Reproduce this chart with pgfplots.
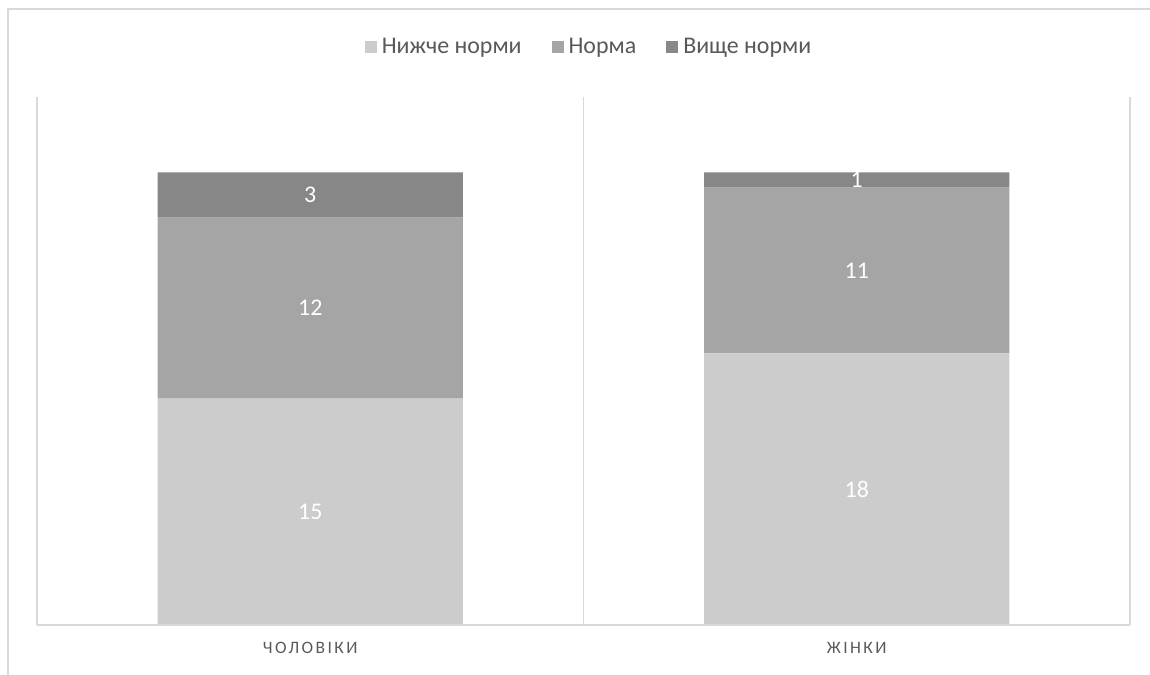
\documentclass[border=0pt]{standalone}
\usepackage{pgfplots}
\pgfplotsset{compat=1.18}
\usepackage{fontspec}
\setmainfont{Carlito}
\newfontfamily\spaced[LetterSpace=14]{Carlito}
\definecolor{cLow}{HTML}{CCCCCC}
\definecolor{cMid}{HTML}{A5A5A5}
\definecolor{cHigh}{HTML}{878787}
\definecolor{cGrid}{HTML}{D9D9D9}
\definecolor{cText}{HTML}{595959}
\pgfplotstableread{
x low mid high
0 15 12 3
1 18 11 1
}\datatab
\pgfplotstableread{
x y lab
0 7.5 15
0 21 12
0 28.5 3
1 9 18
1 23.5 11
1 29.5 1
}\labtab
\begin{document}
\begin{tikzpicture}[x=1bp,y=1bp]
\useasboundingbox (0,0) rectangle (1150,675);
\draw[cGrid, line width=1.2bp] (8,0) -- (8,666) -- (1150,666);
\begin{axis}[
  at={(37bp,50bp)}, anchor=south west,
  scale only axis, width=1093bp, height=528bp,
  ybar stacked, bar width=305bp,
  xmin=-0.5, xmax=1.5, ymin=0, ymax=35,
  axis line style={draw=none},
  xtick={0,1}, xticklabels={{ЧОЛОВІКИ},{ЖІНКИ}},
  xticklabel style={font=\fontsize{17.5}{21}\selectfont\spaced, text=cText, yshift=-14bp},
  major tick length=0pt,
  minor xtick={-0.5,0.5,1.5},
  minor tick length=0pt,
  xminorgrids, minor grid style={cGrid, line width=1.2bp},
  ytick=\empty,
  legend style={at={(0.5,1)}, anchor=center, xshift=5.5bp, yshift=50bp, draw=none,
    legend columns=3, font=\fontsize{24}{28}\selectfont, text=cText,
    /tikz/every odd column/.append style={column sep=3bp},
    /tikz/every even column/.append style={column sep=28bp}},
  legend image code/.code={\fill[#1] (0bp,-6bp) rectangle (12bp,6bp);},
  clip=false,
]
\addplot[fill=cLow, draw=none] table[x=x,y=low]{\datatab};
\addplot[fill=cMid, draw=none] table[x=x,y=mid]{\datatab};
\addplot[fill=cHigh, draw=none] table[x=x,y=high]{\datatab};
\legend{Нижче норми, Норма, Вище норми}
\end{axis}
\begin{axis}[
  at={(37bp,50bp)}, anchor=south west,
  scale only axis, width=1093bp, height=528bp,
  xmin=-0.5, xmax=1.5, ymin=0, ymax=35,
  hide axis, clip=false,
]
\draw[cGrid, line width=1.2bp] (axis cs:-0.5,0) -- (axis cs:1.5,0);
\addplot[only marks, mark=none, nodes near coords, point meta=explicit symbolic,
  every node near coord/.style={anchor=center, text=white, font=\fontsize{24}{28}\selectfont}]
  table[x=x, y=y, meta=lab]{\labtab};
\end{axis}
\end{tikzpicture}
\end{document}
